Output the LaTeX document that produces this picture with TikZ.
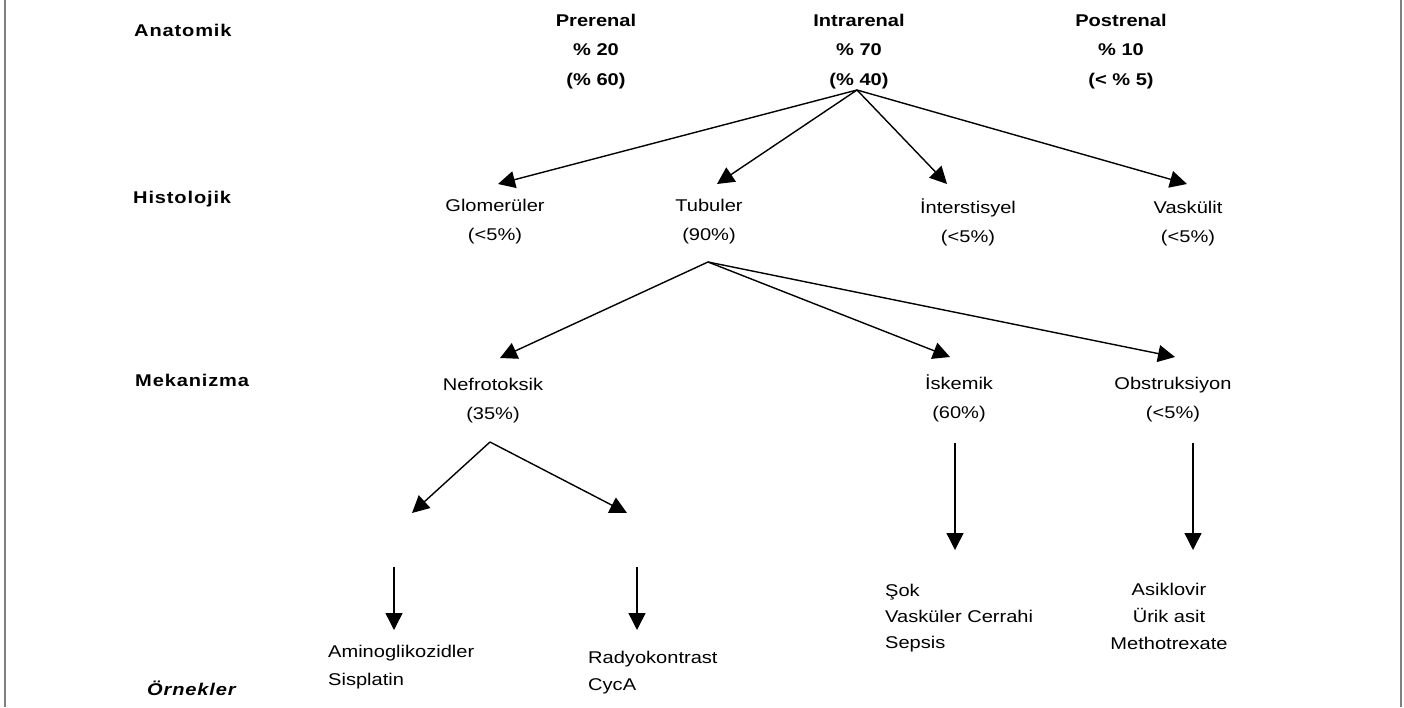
\documentclass[tikz,border=0pt]{standalone}
\usepackage{fontspec}
\setmainfont{Liberation Sans}[FakeStretch=1.18]
\newfontfamily\lblfont{Liberation Sans}[FakeStretch=1.18,LetterSpace=5]
\usetikzlibrary{arrows.meta}
\begin{document}
\begin{tikzpicture}[x=1pt,y=-1pt,
  txt/.style={inner sep=0pt,align=center,anchor=base,font=\fontsize{17}{29}\selectfont},
  txtl/.style={inner sep=0pt,align=left,anchor=base west,font=\fontsize{17}{27}\selectfont},
  head/.style={txt,font=\fontsize{17}{29.5}\selectfont\bfseries},
  lvl/.style={inner sep=0pt,anchor=base west,font=\fontsize{17}{20}\selectfont\lblfont\bfseries},
  arr/.style={line width=1.4pt,-{Triangle[length=17pt,width=17pt]}},
  frame/.style={line width=2pt,draw=black!50}]
\useasboundingbox (0,0) rectangle (1404,707);
\draw[frame] (5,0) -- (5,707);
\draw[frame] (1401,0) -- (1401,707);
% level labels
\node[lvl] (lanat) at (134,36) {Anatomik};
\node[lvl] (lhist) at (133,203) {Histolojik};
\node[lvl] (lmek) at (135,386) {Mekanizma};
\node[lvl,font=\fontsize{17}{20}\selectfont\lblfont\bfseries\itshape] (lorn) at (147,695) {Örnekler};
% anatomic (anchor = baseline of last line)
\node[head] (pre) at (596,85) {Prerenal\\\% 20\\(\% 60)};
\node[head] (intra) at (859,85) {Intrarenal\\\% 70\\(\% 40)};
\node[head] (post) at (1121,85) {Postrenal\\\% 10\\(< \% 5)};
% histologic
\node[txt] (glom) at (495,240) {Glomerüler\\(<5\%)};
\node[txt] (tub) at (709,240) {Tubuler\\(90\%)};
\node[txt] (inter) at (968,242) {İnterstisyel\\(<5\%)};
\node[txt] (vask) at (1188,242) {Vaskülit\\(<5\%)};
% mechanism
\node[txt] (nef) at (493,419) {Nefrotoksik\\(35\%)};
\node[txt] (isk) at (959,418) {İskemik\\(60\%)};
\node[txt] (obs) at (1173,418) {Obstruksiyon\\(<5\%)};
% examples
\node[txtl,font=\fontsize{17}{28}\selectfont] (ex1) at (328,685) {Aminoglikozidler\\Sisplatin};
\node[txtl] (ex2) at (588,690) {Radyokontrast\\CycA};
\node[txtl,font=\fontsize{17}{26}\selectfont] (ex3) at (885,648) {Şok\\Vasküler Cerrahi\\Sepsis};
\node[txt,font=\fontsize{17}{27}\selectfont] (ex4) at (1169,649) {Asiklovir\\Ürik asit\\Methotrexate};
% coordinates
\coordinate (aI) at (857,90);
\coordinate (tG) at (498,184);
\coordinate (tT) at (717,184);
\coordinate (tI) at (947,184);
\coordinate (tV) at (1187,184);
\coordinate (aT) at (708,262);
\coordinate (tN) at (500,358);
\coordinate (tK) at (950,357);
\coordinate (tO) at (1175,357);
\coordinate (aN) at (490,442);
\coordinate (tN1) at (412,513);
\coordinate (tN2) at (627,513);
\coordinate (sK) at (955,443);
\coordinate (eK) at (955,550);
\coordinate (sO) at (1193,443);
\coordinate (eO) at (1193,550);
\coordinate (s1) at (394,567);
\coordinate (e1) at (394,630);
\coordinate (s2) at (637,567);
\coordinate (e2) at (637,630);
% arrows
\draw[arr] (aI) -- (tG);
\draw[arr] (aI) -- (tT);
\draw[arr] (aI) -- (tI);
\draw[arr] (aI) -- (tV);
\draw[arr] (aT) -- (tN);
\draw[arr] (aT) -- (tK);
\draw[arr] (aT) -- (tO);
\draw[arr] (aN) -- (tN1);
\draw[arr] (aN) -- (tN2);
\draw[arr] (sK) -- (eK);
\draw[arr] (sO) -- (eO);
\draw[arr] (s1) -- (e1);
\draw[arr] (s2) -- (e2);
\end{tikzpicture}
\end{document}
